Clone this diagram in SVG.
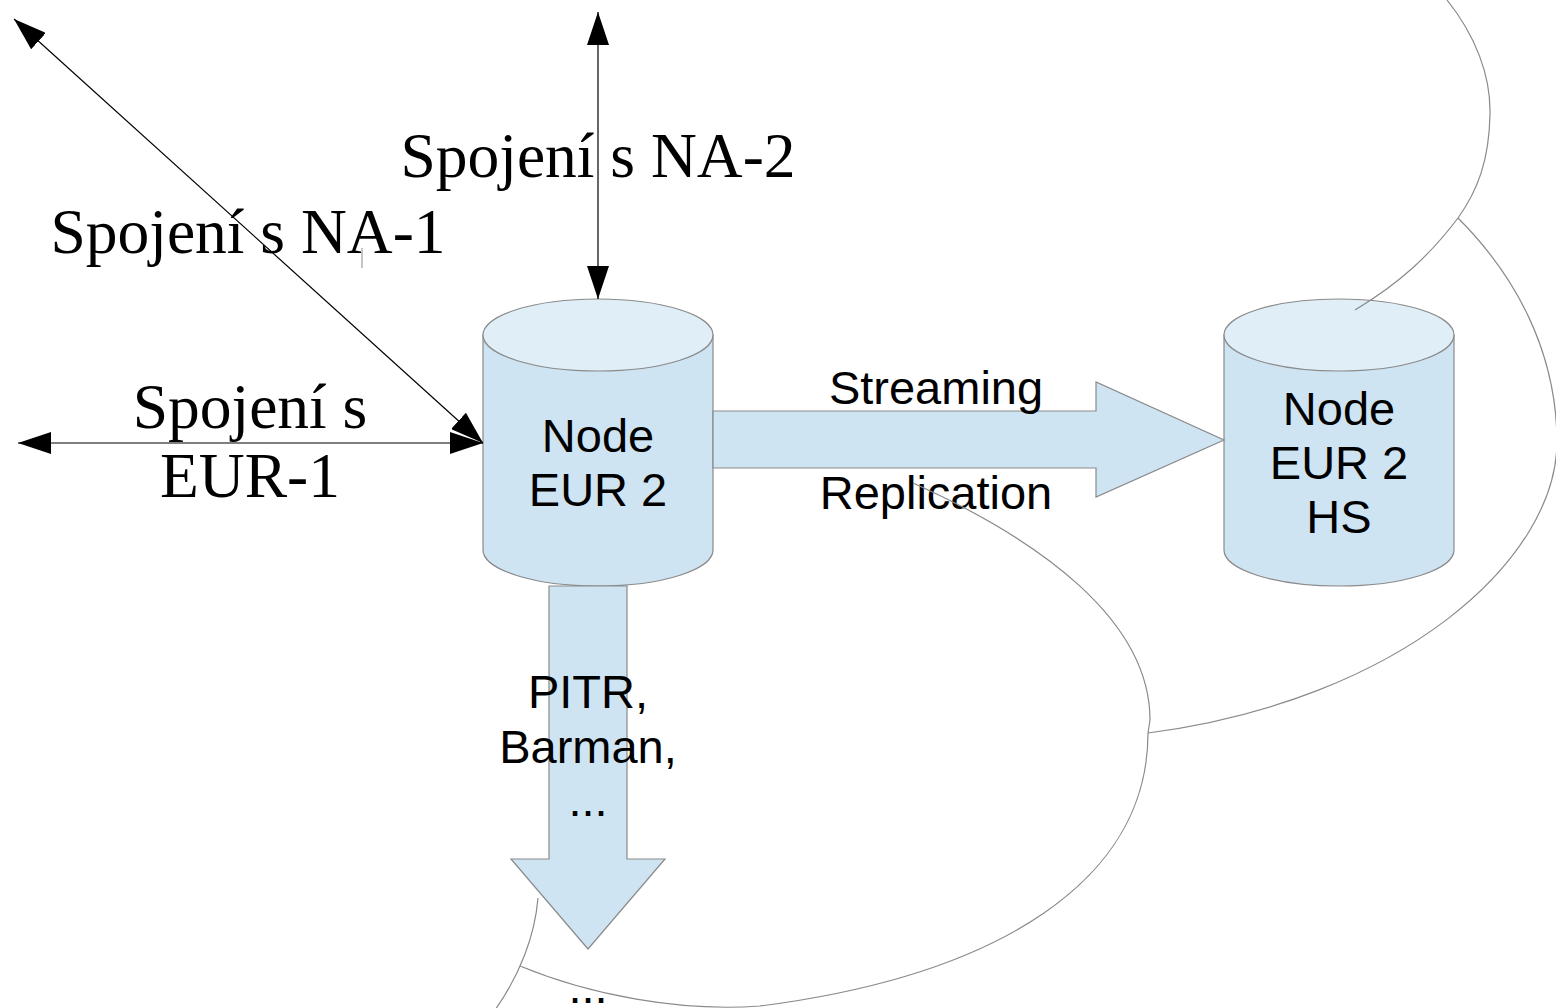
<svg xmlns="http://www.w3.org/2000/svg" width="1556" height="1008" viewBox="0 0 1556 1008">
<style>
.sans{font-family:"Liberation Sans",Arial,sans-serif;font-size:47px;fill:#000;text-anchor:middle}
.serif{font-family:"Liberation Serif","Times New Roman",serif;font-size:63.5px;fill:#000;text-anchor:middle}
.body{fill:#cfe4f2;stroke:#8a8a8a;stroke-width:1.2}
.top{fill:#e0eef8;stroke:#8a8a8a;stroke-width:1.2}
.fat{fill:#cfe4f2;stroke:#8a8a8a;stroke-width:1.2}
.thin{fill:none;stroke:#000;stroke-width:1.2;marker-start:url(#ah);marker-end:url(#ah)}
.cloud{fill:none;stroke:#8a8a8a;stroke-width:1.2}
</style>
<defs>
<marker id="ah" viewBox="0 0 33 22" markerUnits="userSpaceOnUse" markerWidth="33" markerHeight="22" refX="33" refY="11" orient="auto-start-reverse">
<path d="M0,0 L33,11 L0,22 Z" fill="#000"/>
</marker>
</defs>
<rect width="1556" height="1008" fill="#fff"/>

<g id="node-eur2">
<path class="body" d="M483,335 L483,550 A115,36 0 0 0 713,550 L713,335 Z"/>
<ellipse class="top" cx="598" cy="335" rx="115" ry="36"/>
<text class="sans" x="598" y="452">Node</text>
<text class="sans" x="598" y="506">EUR 2</text>
</g>

<g id="node-eur2-hs">
<path class="body" d="M1224,335 L1224,550 A115,36 0 0 0 1454,550 L1454,335 Z"/>
<ellipse class="top" cx="1339" cy="335" rx="115" ry="36"/>
<text class="sans" x="1339" y="425">Node</text>
<text class="sans" x="1339" y="479">EUR 2</text>
<text class="sans" x="1339" y="533">HS</text>
</g>

<g id="connectors">
<polygon class="fat" points="713,411 1096,411 1096,382 1224,440 1096,497 1096,468 713,468"/>
<polygon class="fat" points="549,586 627,586 627,859 665,859 588,949 511,859 549,859"/>
<line class="thin" x1="598" y1="12" x2="598" y2="299"/>
<line class="thin" x1="14" y1="19" x2="483" y2="443"/>
<line class="thin" x1="18" y1="443" x2="483" y2="443"/>
</g>

<g id="labels">
<text class="sans" x="936" y="404">Streaming</text>
<text class="sans" x="936" y="509">Replication</text>
<text class="sans" x="588" y="708">PITR,</text>
<text class="sans" x="588" y="763">Barman,</text>
<text class="sans" x="588" y="816">...</text>
<text class="sans" x="588" y="1003">...</text>
<text class="serif" x="598" y="177">Spojení s NA-2</text>
<text class="serif" x="248" y="253">Spojení s NA-1</text>
<text class="serif" x="250" y="428">Spojení s</text>
<text class="serif" x="250" y="497">EUR-1</text>
</g>

<g id="cloud">
<path class="cloud" d="M1447,0 C1475,35 1491,75 1490,115 C1489,160 1478,190 1458,218 C1430,255 1400,283 1355,310"/>
<path class="cloud" d="M1458,218 C1515,275 1556,350 1557,440 C1558,560 1400,700 1148,733"/>
<path class="cloud" d="M913,483 C1040,540 1150,620 1150,720 L1148,733"/>
<path class="cloud" d="M1148,733 C1148,880 1000,975 760,1006 C680,1012 590,995 520,966"/>
<path class="cloud" d="M538,898 C535,935 520,975 495,1010"/>
<line x1="362" y1="248" x2="362" y2="268" stroke="#8a8a8a" stroke-width="1"/>
</g>
</svg>
